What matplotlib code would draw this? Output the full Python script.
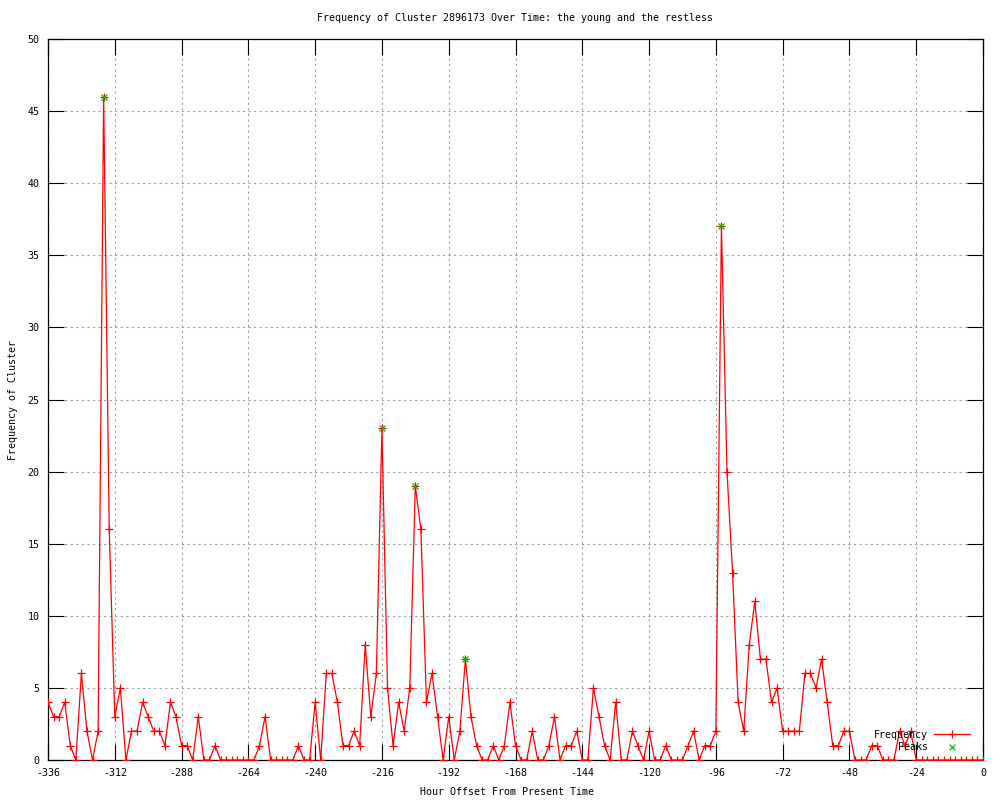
import numpy as np
import matplotlib
matplotlib.use("Agg")
import matplotlib.pyplot as plt

# ---- data ----
hours = np.arange(-336, 1, 2)  # hourly offsets, every 2 hours
frequency = [
    4, 3, 3, 4, 1, 0, 6, 2, 0, 2,
    46, 16,
    3, 5, 0, 2, 2, 4, 3, 2,
    2, 1, 4, 3, 1, 1, 0, 3, 0, 0,
    1, 0, 0, 0, 0, 0, 0, 0, 1, 3,
    0, 0, 0, 0, 0, 1, 0, 0, 4, 0,
    6, 6, 4, 1, 1, 2, 1, 8, 3, 6,
    23, 5, 1, 4, 2, 5, 19, 16, 4, 6,
    3, 0, 3, 0, 2, 7, 3, 1, 0, 0,
    1, 0, 1, 4, 1, 0, 0, 2, 0, 0,
    1, 3, 0, 1, 1, 2, 0, 0, 5, 3,
    1, 0, 4, 0, 0, 2, 1, 0, 2, 0,
    0, 1, 0, 0, 0, 1, 2, 0, 1, 1,
    2, 37, 20, 13, 4, 2, 8, 11, 7, 7,
    4, 5, 2, 2, 2, 2, 6, 6, 5, 7,
    4, 1, 1, 2, 2, 0, 0, 0, 1, 1,
    0, 0, 0, 2, 1, 2, 0, 0, 0, 0,
    0, 0, 0, 0, 0, 0, 0, 0, 0,
]
peak_hours = [-316, -216, -204, -186, -94]
peak_values = [46, 23, 19, 7, 37]

x_ticks = list(range(-336, 1, 24))
y_ticks = list(range(0, 51, 5))

title = "Frequency of Cluster 2896173 Over Time: the young and the restless"
xlabel = "Hour Offset From Present Time"
ylabel = "Frequency of Cluster"

# ---- style ----
plt.rcParams['font.family'] = ['DejaVu Sans Mono']
plt.rcParams['axes.unicode_minus'] = False
FS = 7.2

fig = plt.figure(figsize=(10, 8), dpi=100)
ax = fig.add_axes([0.048, 0.05, 0.935, 0.90125])

ax.plot(hours, frequency, color='#ff0000', lw=0.9, marker='+', ms=6,
        mew=0.9, label='Frequency', zorder=3)
ax.plot(peak_hours, peak_values, linestyle='none', color='#00c000', marker='x',
        ms=5, mew=0.9, label='Peaks', zorder=4)

ax.set_xlim(-336, 0)
ax.set_ylim(0, 50)
ax.set_xticks(x_ticks)
ax.set_yticks(y_ticks)
ax.tick_params(direction='in', length=11.5, width=0.8, top=True, right=True,
               labelsize=FS, pad=6)
ax.grid(True, color='#a0a0a0', linestyle=(0, (2, 3)), linewidth=0.8)
for s in ax.spines.values():
    s.set_linewidth(0.9)

fig.text(0.515, 1 - 18 / 800, title, ha='center', va='center', fontsize=FS)
fig.text(0.507, 1 - 792 / 800, xlabel, ha='center', va='center', fontsize=FS)
fig.text(0.013, 1 - 400 / 800, ylabel, ha='center', va='center', rotation=90,
         fontsize=FS)

leg = ax.legend(loc='lower right', bbox_to_anchor=(0.991, 0.004), frameon=False,
                markerfirst=False, fontsize=FS, handlelength=3.6,
                labelspacing=0.25, borderpad=0, handletextpad=0.6, numpoints=1)

fig.savefig('out.png', dpi=100)
